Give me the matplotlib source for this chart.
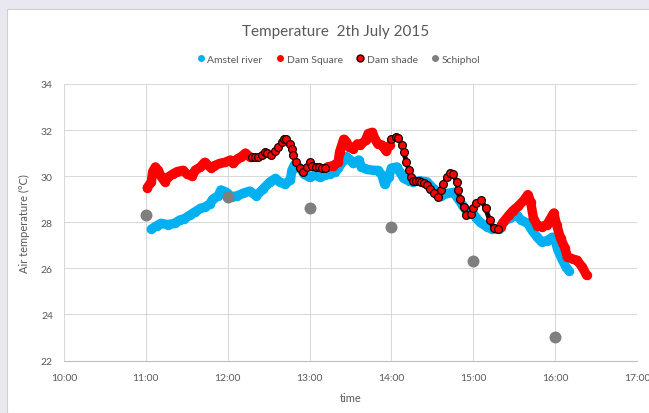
import matplotlib
matplotlib.use('Agg')
import matplotlib.pyplot as plt
import matplotlib.dates as mdates
from matplotlib.lines import Line2D
from matplotlib.patches import Rectangle
import pandas as pd
import numpy as np

plt.rcParams['font.family'] = ['Lato', 'DejaVu Sans']

day = '2015-07-02 '

# Amstel river
amstel_time = ['11:04', '11:08', '11:11', '11:16', '11:21', '11:25', '11:28', '11:32', '11:36', '11:40',
               '11:43', '11:47', '11:49', '11:53', '11:55', '11:59', '12:03', '12:07', '12:11', '12:16',
               '12:21', '12:26', '12:31', '12:35', '12:38', '12:42', '12:46', '12:47', '12:49', '12:53',
               '12:56', '13:00', '13:04', '13:08', '13:11', '13:15', '13:19', '13:21', '13:25', '13:27',
               '13:29', '13:32', '13:36', '13:38', '13:42', '13:47', '13:50', '13:53', '13:55', '13:58',
               '14:00', '14:04', '14:06', '14:09', '14:13', '14:16', '14:21', '14:26', '14:31', '14:36',
               '14:41', '14:46', '14:48', '14:52', '14:55', '14:59', '15:02', '15:05', '15:10', '15:14',
               '15:19', '15:22', '15:27', '15:32', '15:35', '15:40', '15:43', '15:47', '15:50', '15:54',
               '15:58', '16:00', '16:02', '16:05', '16:08', '16:10']
amstel_temp = [27.7, 27.85, 27.95, 27.9, 27.95, 28.1, 28.15, 28.3, 28.45, 28.6,
               28.65, 28.8, 29.0, 29.15, 29.4, 29.3, 29.1, 29.15, 29.25, 29.35,
               29.15, 29.45, 29.75, 29.9, 29.75, 29.65, 29.85, 30.25, 30.5, 30.35,
               30.1, 29.95, 30.05, 29.95, 30.05, 30.1, 30.2, 30.35, 30.7, 30.85,
               30.75, 30.55, 30.7, 30.4, 30.3, 30.25, 30.25, 30.05, 29.65, 29.95,
               30.35, 30.4, 30.2, 29.9, 29.8, 29.75, 29.8, 29.75, 29.45, 29.15,
               29.25, 29.3, 29.1, 28.75, 28.5, 28.45, 28.2, 28.0, 27.8, 27.7,
               27.7, 28.0, 28.2, 28.3, 28.1, 27.95, 27.65, 27.35, 27.15, 27.2,
               27.35, 27.2, 26.8, 26.4, 26.05, 25.9]

# Dam Square (the sensor was in the shade in between)
square_time = ['11:01', '11:04', '11:05', '11:07', '11:09', '11:11', '11:14', '11:16', '11:20', '11:23',
               '11:27', '11:30', '11:34', '11:36', '11:40', '11:43', '11:46', '11:48', '11:50', '11:54',
               '11:58', '12:02', '12:04', '12:07', '12:10', '12:13', '12:16',
               '13:13', '13:17', '13:21', '13:22', '13:25', '13:27', '13:29', '13:32', '13:35', '13:37',
               '13:41', '13:43', '13:46', '13:48', '13:50', '13:53', '13:56', '13:59',
               '15:20', '15:22', '15:26', '15:29', '15:33', '15:37', '15:40', '15:42', '15:44', '15:47',
               '15:50', '15:54', '15:58', '15:59', '16:01', '16:04', '16:07', '16:09', '16:13', '16:16',
               '16:20', '16:23']
square_temp = [29.5, 29.75, 30.2, 30.4, 30.25, 30.0, 29.75, 29.95, 30.1, 30.2,
               30.25, 30.1, 30.0, 30.25, 30.4, 30.6, 30.45, 30.35, 30.45, 30.55,
               30.6, 30.7, 30.55, 30.75, 30.85, 31.0, 30.85,
               30.4, 30.45, 30.6, 31.05, 31.6, 31.5, 31.25, 31.2, 31.4, 31.35,
               31.55, 31.85, 31.9, 31.6, 31.4, 31.35, 31.1, 31.35,
               27.8, 28.0, 28.3, 28.5, 28.7, 28.95, 29.2, 28.9, 28.2, 27.85,
               27.8, 27.9, 28.3, 28.4, 27.9, 27.3, 26.9, 26.5, 26.4, 26.35,
               26.05, 25.7]

# Dam shade
shade_time = ['12:18', '12:20', '12:22', '12:25', '12:27', '12:29', '12:32', '12:35', '12:37', '12:40',
              '12:41', '12:43', '12:46', '12:47', '12:48', '12:50', '12:53', '12:55', '12:58', '13:00',
              '13:02', '13:05', '13:07', '13:09', '13:11',
              '14:00', '14:03', '14:05', '14:08', '14:09', '14:11', '14:13', '14:14', '14:16', '14:18',
              '14:20', '14:22', '14:24', '14:26', '14:28', '14:31', '14:34', '14:36', '14:38', '14:41',
              '14:43', '14:45', '14:48', '14:49', '14:50', '14:53', '14:55', '14:58', '15:00', '15:02',
              '15:06', '15:09', '15:12', '15:15', '15:18']
shade_temp = [30.85, 30.85, 30.85, 30.9, 31.05, 31.0, 30.9, 31.1, 31.25, 31.5,
              31.6, 31.6, 31.4, 31.2, 30.9, 30.6, 30.35, 30.2, 30.4, 30.6,
              30.45, 30.4, 30.4, 30.35, 30.35,
              31.6, 31.7, 31.65, 31.35, 31.05, 30.6, 30.25, 29.95, 29.8, 29.8,
              29.8, 29.75, 29.7, 29.6, 29.45, 29.25, 29.1, 29.4, 29.65, 29.95,
              30.15, 30.1, 29.75, 29.4, 29.0, 28.65, 28.3, 28.35, 28.6, 28.85,
              28.95, 28.6, 28.1, 27.75, 27.7]

# Schiphol
schiphol_time = ['11:00', '12:00', '13:00', '14:00', '15:00', '16:00']
schiphol_temp = [28.3, 29.1, 28.6, 27.8, 26.3, 23.0]


def to_dt(times):
    return pd.to_datetime([day + t for t in times])


def segments(times, temps, gap_min=20):
    # split a series where the logger was moved (long time gap)
    t = to_dt(times)
    v = np.array(temps)
    gaps = np.diff(t.values).astype('timedelta64[m]').astype(int)
    breaks = np.where(gaps > gap_min)[0] + 1
    return [(t[i], v[i]) for i in np.split(np.arange(len(v)), breaks)]


blue = '#00b0f0'
red = '#ff0000'
grey = '#7f7f7f'
txt = '#595959'

fig = plt.figure(figsize=(6.49, 4.14), dpi=100, facecolor='#e9e7f0')
fig.patches.append(Rectangle((7 / 649, 0), 1, 1 - 10 / 414, transform=fig.transFigure,
                             facecolor='white', edgecolor='#d0d0d0', lw=0.8, zorder=-5))
ax = fig.add_axes([64 / 649, 1 - 361.5 / 414, (637 - 64) / 649, (361.5 - 85) / 414])
ax.set_facecolor('none')

# dense readings drawn as a thick band of dots
ax.plot(to_dt(amstel_time), amstel_temp, '-o', color=blue, lw=6.8, ms=6.8, mew=0,
        solid_capstyle='round', zorder=3)

for t, v in segments(square_time, square_temp):
    ax.plot(t, v, '-o', color=red, lw=6.8, ms=6.8, mew=0, solid_capstyle='round', zorder=4)

for t, v in segments(shade_time, shade_temp):
    ax.plot(t, v, '-', color='#200000', lw=3.5, solid_capstyle='round', zorder=5)
    ax.plot(t, v, 'o', color=red, ms=5.6, mec='#1a0000', mew=0.9, zorder=6)

ax.plot(to_dt(schiphol_time), schiphol_temp, 'o', color=grey, ms=8.6, mew=0, zorder=7)

ax.set_xlim(pd.Timestamp(day + '10:00'), pd.Timestamp(day + '17:00'))
ax.set_ylim(22, 34)
ax.set_yticks(np.arange(22, 35, 2))
ax.xaxis.set_major_locator(mdates.HourLocator())
ax.xaxis.set_major_formatter(mdates.DateFormatter('%H:%M'))

ax.grid(True, color='#d9d9d9', lw=0.75)
ax.set_axisbelow(True)
for s in ['top', 'right', 'left']:
    ax.spines[s].set_visible(False)
ax.spines['bottom'].set_color('#bfbfbf')
ax.tick_params(axis='y', length=0, labelsize=7.5, colors=txt, pad=8)
ax.tick_params(axis='x', length=0, labelsize=7.5, colors=txt, pad=9)

ax.set_xlabel('time', fontsize=8, color=txt, labelpad=7)
ax.set_ylabel('Air temperature (°C)', fontsize=8, color=txt, labelpad=8)

fig.text(336 / 649, 1 - 32 / 414, 'Temperature  2th July 2015', ha='center', va='center',
         fontsize=11, color=txt)

handles = [Line2D([], [], ls='', marker='o', color=blue, ms=5, mew=0),
           Line2D([], [], ls='', marker='o', color=red, ms=5, mew=0),
           Line2D([], [], ls='', marker='o', color=red, ms=5, mec='#1a0000', mew=1),
           Line2D([], [], ls='', marker='o', color=grey, ms=5, mew=0)]
fig.legend(handles, ['Amstel river', 'Dam Square', 'Dam shade', 'Schiphol'],
           loc='center', bbox_to_anchor=(338 / 649, 1 - 60 / 414), ncol=4, frameon=False,
           fontsize=7.5, handletextpad=0.1, columnspacing=1.2, labelcolor=txt,
           handlelength=1)

fig.savefig('out.png', dpi=100, facecolor=fig.get_facecolor())
